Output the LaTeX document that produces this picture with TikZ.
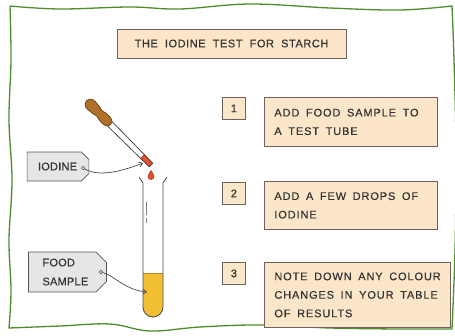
\documentclass[tikz,border=0pt]{standalone}
\usepackage{fontspec}
\setmainfont{Liberation Sans}
\newfontfamily\handfont[LetterSpace=5,FakeBold=0.4]{Liberation Sans}
\newfontfamily\stepfont[LetterSpace=8,FakeBold=0.4]{Liberation Sans}
\newfontfamily\tagfont[LetterSpace=2,FakeBold=0.4]{Liberation Sans}
\usetikzlibrary{shapes.misc,arrows.meta,calc}

% wider gaps between words, as in hand lettering
\newcommand\titlegaps{\spaceskip=0.65em plus 0.1em\relax}
\newcommand\stepgaps{\spaceskip=0.6em plus 0.1em\relax}
% one unbreakable line of step text
\newcommand\stepline[1]{\mbox{#1}}

\definecolor{boxfill}{HTML}{FCE6C9}
\definecolor{boxline}{HTML}{6E6259}
\definecolor{tagfill}{HTML}{E6E6E6}
\definecolor{tagline}{HTML}{555555}
\definecolor{framegreen}{HTML}{4E8C2C}
\definecolor{liquid}{HTML}{F2BF34}
\definecolor{liquidline}{HTML}{B8892A}
\definecolor{bulbbrown}{HTML}{B06F28}
\definecolor{bulbline}{HTML}{6B4218}
\definecolor{iodred}{HTML}{E8502A}
\definecolor{iodline}{HTML}{A8321A}
\definecolor{ink}{HTML}{4A4A4A}
\definecolor{textcol}{HTML}{333333}

\tikzset{
  panel/.style={draw=boxline, fill=boxfill, line width=0.8pt, text=textcol},
  titlebox/.style={panel, minimum width=229pt, minimum height=29pt, inner sep=0pt,
    font=\handfont\fontsize{11}{13}\selectfont},
  numbox/.style={panel, minimum width=23pt, minimum height=22pt, inner sep=0pt,
    anchor=north west, font=\handfont\fontsize{11}{13}\selectfont},
  stepbox/.style={panel, anchor=north west, align=left, inner xsep=10pt, inner ysep=0pt,
    font=\stepfont\fontsize{11}{18.5}\selectfont},
  tagbox/.style={chamfered rectangle, chamfered rectangle corners={north east,south east},
    chamfered rectangle xsep=7pt, draw=tagline, fill=tagfill, line width=0.7pt,
    text=textcol, align=left, inner xsep=7pt, inner ysep=0pt,
    font=\tagfont\fontsize{11}{19}\selectfont},
  taghole/.style={draw=tagline, fill=tagfill, line width=0.6pt},
  pointer/.style={draw=ink, line width=0.7pt, -{Straight Barb[length=3.5pt,width=5pt]}},
  glass/.style={draw=ink, line width=0.8pt},
  frameline/.style={draw=framegreen, line width=1.3pt, line join=round}
}

\begin{document}
\begin{tikzpicture}[x=1pt,y=-1pt]
\useasboundingbox (0,0) rectangle (455,335);
\fill[white] (0,0) rectangle (455,335);

% hand-drawn green frame
\draw[frameline] plot[smooth, tension=0.6] coordinates {(10,6) (60,9) (130,7) (180,9) (250,4) (330,8) (400,10) (452,6)}
  -- plot[smooth, tension=0.6] coordinates {(452,6) (454,60) (456,150) (455,250) (452,329)}
  -- plot[smooth, tension=0.6] coordinates {(452,329) (400,329) (330,328) (260,325) (200,327) (150,331) (110,324) (60,326) (9,328)}
  -- plot[smooth, tension=0.6] coordinates {(9,328) (11,290) (9,240) (12,180) (9,120) (11,60) (10,6)};

% title
\node[titlebox] (title) at (231.5,43.5) {\titlegaps THE IODINE TEST FOR STARCH};

% numbered steps
\node[numbox] (n1) at (222,97) {1};
\node[numbox] (n2) at (222,182) {2};
\node[numbox] (n3) at (222,262) {3};
\node[stepbox, text width=153pt, minimum width=173pt, minimum height=49pt] (s1) at (264,97)
  {\stepgaps\stepline{ADD FOOD SAMPLE TO}\\\stepline{A TEST TUBE}};
\node[stepbox, text width=153pt, minimum width=173pt, minimum height=48pt] (s2) at (264,181)
  {\stepgaps\stepline{ADD A FEW DROPS OF}\\\stepline{IODINE}};
\node[stepbox, text width=166pt, minimum width=186pt, minimum height=65pt] (s3) at (264,262)
  {\stepgaps\stepline{NOTE DOWN ANY COLOUR}\\\stepline{CHANGES IN YOUR TABLE}\\\stepline{OF RESULTS}};

% test tube with food sample
\fill[liquid] (143,273) -- (143,307) arc[start angle=180, end angle=0, radius=10] -- (163,273) -- cycle;
\draw[liquidline, line width=0.6pt] (143,273) -- (163,273);
\draw[glass, line join=round] (139,177) -- (143,183) -- (143,307) arc[start angle=180, end angle=0, radius=10]
  -- (163,183) -- (167,177);
\draw[ink!70, line width=0.6pt] (146,202) -- (146,215) (146,218) -- (146,223);

% dropper
\begin{scope}[shift={(151,165)}, rotate=135]
  \fill[white] (0,-2.5) -- (62,-3.2) -- (62,3.2) -- (0,2.5) -- cycle;
  \fill[iodred] (0,-2.5) -- (12,-2.9) -- (12,2.9) -- (0,2.5) -- cycle;
  \draw[glass, line join=round] (62,-3.2) -- (0,-2.5) -- (0,2.5) -- (62,3.2);
  \draw[iodline, line width=0.6pt] (12,-2.9) -- (12,2.9);
  \filldraw[fill=bulbbrown, draw=bulbline, line width=0.7pt]
    plot[smooth cycle, tension=0.7] coordinates {(58,-2.8) (63,-5) (68,-4.9) (73,-3.8) (78,-4.9) (84,-5.5) (89,-4.2) (91,0)
      (89,4.2) (84,5.5) (78,4.9) (73,3.8) (68,4.9) (63,5) (58,2.8)};
\end{scope}

% falling drop
\filldraw[fill=iodred, draw=iodline, line width=0.5pt]
  (151,170.5) .. controls (152,172.5) and (154,174.5) .. (154,176.5)
  arc[start angle=0, end angle=180, radius=3]
  .. controls (148,174.5) and (150,172.5) .. (151,170.5);

% labels
\node[tagbox, minimum width=58pt, minimum height=29pt, text width=40pt] (iodine) at (58,166.5) {IODINE};
\node[tagbox, minimum width=69pt, minimum height=40pt, text width=50pt] (food) at (67.5,272) {FOOD\\SAMPLE};
\coordinate (iodhole) at ($(iodine.east)+(-6,1.5)$);
\coordinate (foodhole) at ($(food.east)+(-6,0)$);
\coordinate (droptip) at (143,163);
\coordinate (sample) at (147,292);
\draw[taghole] (iodhole) circle[radius=1.8];
\draw[taghole] (foodhole) circle[radius=1.8];

\draw[pointer, shorten <=1.8pt] (iodhole) .. controls (100,178) and (125,170) .. (droptip);
\draw[pointer, shorten <=1.8pt] (foodhole) .. controls (115,276) and (125,290) .. (sample);
\end{tikzpicture}
\end{document}
